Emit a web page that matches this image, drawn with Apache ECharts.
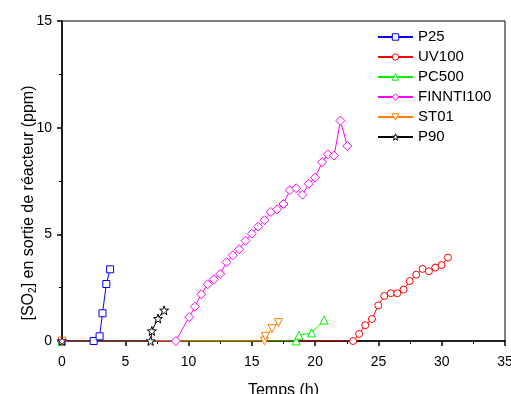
<!DOCTYPE html>
<html>
<head>
<meta charset="utf-8">
<script src="https://cdn.jsdelivr.net/npm/echarts@6/dist/echarts.min.js"></script>
<style>html,body{margin:0;padding:0;background:#fff;}#c{width:511px;height:394px;}</style>
</head>
<body>
<div id="c"></div>
<script>
// Data (time in h, [SO2] in ppm)
var p25 = [[0,0],[2.5,0],[2.97,0.22],[3.2,1.3],[3.5,2.67],[3.8,3.36]];
var uv100 = [[0,0],[23,0],[23.47,0.33],[23.96,0.74],[24.49,1.03],[24.99,1.67],[25.46,2.11],[25.97,2.24],[26.49,2.24],[26.99,2.41],[27.47,2.81],[27.99,3.11],[28.49,3.38],[28.99,3.27],[29.49,3.44],[29.99,3.56],[30.49,3.91]];
var pc500 = [[0,0],[18.5,0],[18.72,0.27],[19.72,0.38],[20.72,0.98]];
var finnti100 = [[0,0],[9.0,0],[10.05,1.12],[10.5,1.61],[11.0,2.19],[11.52,2.66],[12.0,2.89],[12.5,3.14],[13.0,3.69],[13.5,4.02],[14.0,4.30],[14.5,4.70],[15.0,5.03],[15.5,5.36],[16.0,5.66],[16.5,6.05],[17.0,6.17],[17.5,6.42],[18.0,7.07],[18.5,7.16],[19.0,6.86],[19.5,7.37],[20.0,7.66],[20.55,8.38],[21.0,8.75],[21.5,8.69],[22.0,10.33],[22.54,9.14]];
var st01 = [[0,0],[16.0,0],[16.07,0.22],[16.6,0.58],[17.1,0.86]];
var p90 = [[0,0],[7.0,0],[7.1,0.47],[7.58,1.05],[8.07,1.44]];

var names = ['P25','UV100','PC500','FINNTI100','ST01','P90'];
var colors = ['#0000ff','#ff0000','#00ee00','#ff00ff','#ff8000','#000000'];
var xTicks = {min:0, max:35, interval:5};
var yTicks = {min:0, max:15, interval:5};

var star = 'path://M0,-10L2.35,-3.24L9.51,-3.09L3.8,1.24L5.88,8.09L0,4L-5.88,8.09L-3.8,1.24L-9.51,-3.09L-2.35,-3.24Z';

function mk(name, data, color, symbol, size, rot){
  return {
    name: name, type: 'line', data: data,
    symbol: symbol, symbolSize: size, symbolRotate: rot || 0,
    lineStyle: {color: color, width: 1},
    itemStyle: {color: '#fff', borderColor: color, borderWidth: 1},
    emphasis: {disabled: true}, animation: false
  };
}

var chart = echarts.init(document.getElementById('c'), null, {renderer:'canvas'});
var font = 'Liberation Sans, Arial, sans-serif';
chart.setOption({
  animation: false,
  backgroundColor: '#fff',
  grid: {left: 62, right: 6, top: 21, bottom: 53, outerBoundsMode: 'none', containLabel: false,
         show: true, borderColor: '#000', borderWidth: 1, backgroundColor: 'transparent'},
  legend: {
    orient: 'vertical', left: 377, top: 29, padding: 0,
    itemWidth: 35, itemHeight: 8, itemGap: 4,
    textStyle: {fontFamily: font, fontSize: 15, color: '#000', lineHeight: 16},
    data: names.map(function(n, i){
      return {name: n, itemStyle: {color: '#fff', borderColor: colors[i], borderWidth: 1}};
    })
  },
  xAxis: [{
    type: 'value', min: xTicks.min, max: xTicks.max, interval: xTicks.interval,
    name: 'Temps (h)', nameLocation: 'middle', nameGap: 42,
    nameTextStyle: {fontFamily: font, fontSize: 16, color: '#000'},
    axisLine: {show: true, onZero: false, lineStyle: {color: '#000', width: 1.5}},
    axisTick: {show: true, length: 5, lineStyle: {color: '#000', width: 1.5}},
    minorTick: {show: true, splitNumber: 2, length: 3, lineStyle: {color: '#000', width: 1}},
    axisLabel: {fontFamily: font, fontSize: 14, color: '#000', margin: 14},
    splitLine: {show: false}
  }],
  yAxis: [{
    type: 'value', min: yTicks.min, max: yTicks.max, interval: yTicks.interval,
    axisLine: {show: true, onZero: false, lineStyle: {color: '#000', width: 1.5}},
    axisTick: {show: true, length: 5, lineStyle: {color: '#000', width: 1.5}},
    minorTick: {show: true, splitNumber: 2, length: 3, lineStyle: {color: '#000', width: 1}},
    axisLabel: {fontFamily: font, fontSize: 14, color: '#000', margin: 10},
    splitLine: {show: false}
  }],
  graphic: [{
    type: 'text', x: 29, y: 203, rotation: Math.PI/2,
    style: {
      text: '{a|[SO}{s|2}{a|] en sortie de réacteur (ppm)}',
      align: 'center', verticalAlign: 'middle',
      rich: {
        a: {fontFamily: font, fontSize: 16, fill: '#000'},
        s: {fontFamily: font, fontSize: 10, fill: '#000', verticalAlign: 'bottom', padding: [8,0,0,0]}
      }
    }
  }],
  series: [
    mk('P25', p25, colors[0], 'rect', 7),
    mk('UV100', uv100, colors[1], 'circle', 7),
    mk('PC500', pc500, colors[2], 'triangle', 8),
    mk('FINNTI100', finnti100, colors[3], 'diamond', 9),
    mk('ST01', st01, colors[4], 'triangle', 8, 180),
    mk('P90', p90, colors[5], star, 9)
  ]
});
</script>
</body>
</html>
